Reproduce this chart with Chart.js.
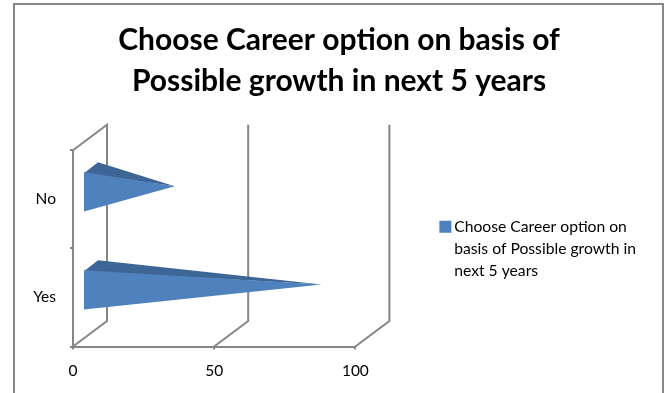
<!DOCTYPE html>
<html>
<head>
<meta charset="utf-8">
<style>
  html, body { margin: 0; padding: 0; background: #fff; overflow: hidden; }
  #wrap { position: relative; width: 664px; height: 393px; }
</style>
<script src="https://cdn.jsdelivr.net/npm/chart.js@4"></script>
</head>
<body>
<div id="wrap"><canvas id="myChart"></canvas></div>
<script>
const categories = ['No', 'Yes'];
const seriesValues = [30, 82];
const seriesName = 'Choose Career option on basis of Possible growth in next 5 years';
const legendLines = ['Choose Career option on', 'basis of Possible growth in', 'next 5 years'];
const titleLines = ['Choose Career option on basis of', 'Possible growth in next 5 years'];
const xTicks = [0, 50, 100];

const FONT = 'Lato, "Open Sans", sans-serif';
const GREY = '#868686';

// Глубина псевдо-3D: смещение задней стенки
const DEPTH_X = 34;
const DEPTH_Y = 25.5;

const frame = {
  id: 'frame',
  beforeDraw(chart) {
    const c = chart.ctx;
    c.save();
    c.strokeStyle = GREY;
    c.lineWidth = 2;
    c.beginPath();
    c.moveTo(14, 393);
    c.lineTo(14, 4);
    c.lineTo(663, 4);
    c.lineTo(663, 393);
    c.stroke();
    c.restore();
  }
};

// Легенда чуть ниже центра области
const legendShift = {
  id: 'legendShift',
  afterLayout(chart) {
    chart.legend.top += 3.5;
    chart.legend.bottom += 3.5;
  }
};

// Стенки и линии сетки в перспективе
const walls = {
  id: 'walls',
  beforeDatasetsDraw(chart) {
    const c = chart.ctx;
    const { top, bottom } = chart.chartArea;
    const x = chart.scales.x;
    c.save();
    c.strokeStyle = GREY;
    c.lineWidth = 2;
    x.ticks.forEach(function(t, i) {
      const px = x.getPixelForTick(i);
      c.beginPath();
      if (i === 0) {
        c.moveTo(px, top);
        c.lineTo(px + DEPTH_X, top - DEPTH_Y);
      } else {
        c.moveTo(px + DEPTH_X, top - DEPTH_Y);
      }
      c.lineTo(px + DEPTH_X, bottom - DEPTH_Y);
      c.lineTo(px, bottom);
      c.stroke();
    });
    c.restore();
  }
};

// Пирамиды вместо обычных столбцов, координаты берутся из элементов графика
const pyramids = {
  id: 'pyramids',
  beforeDatasetDraw(chart, args) {
    const c = chart.ctx;
    args.meta.data.forEach(function(bar) {
      const x0 = bar.base + 10;
      const yTop = bar.y - 7.5 - bar.height / 2;
      const yBottom = bar.y - 7.5 + bar.height / 2;
      const tipX = bar.x + 17;
      const tipY = bar.y - 13;

      c.fillStyle = '#3D6696';
      c.beginPath();
      c.moveTo(x0, yTop + 1);
      c.lineTo(x0 + 14, yTop - 10);
      c.lineTo(tipX, tipY);
      c.closePath();
      c.fill();

      c.fillStyle = '#4F81BD';
      c.beginPath();
      c.moveTo(x0, yTop);
      c.lineTo(tipX, tipY);
      c.lineTo(x0, yBottom);
      c.closePath();
      c.fill();
    });
    return false;
  }
};

new Chart(document.getElementById('myChart'), {
  type: 'bar',
  data: {
    labels: categories,
    datasets: [{
      label: seriesName,
      data: seriesValues,
      backgroundColor: '#4F81BD',
      barPercentage: 0.4,
      categoryPercentage: 1
    }]
  },
  plugins: [frame, legendShift, walls, pyramids],
  options: {
    indexAxis: 'y',
    responsive: true,
    maintainAspectRatio: false,
    animation: false,
    layout: { padding: { left: 32, right: 18 } },
    scales: {
      x: {
        min: xTicks[0],
        max: xTicks[2],
        afterBuildTicks(scale) {
          scale.ticks = xTicks.map(v => ({ value: v }));
        },
        afterFit(scale) { scale.height = 46.5; },
        border: { color: GREY, width: 2 },
        grid: { drawOnChartArea: false, color: GREY, tickLength: 3, lineWidth: 2 },
        ticks: { color: '#000', padding: 12, maxRotation: 0, font: { family: FONT, size: 15.5 } }
      },
      y: {
        afterFit(scale) { scale.width = 41; },
        border: { color: GREY, width: 2 },
        grid: { drawOnChartArea: false, color: GREY, tickLength: 3, lineWidth: 2 },
        ticks: { color: '#000', padding: 14, font: { family: FONT, size: 15.5 } }
      },
      // Пустая ось справа, держит отступ до легенды
      spacer: {
        axis: 'y',
        position: 'right',
        afterFit(scale) { scale.width = 76; },
        border: { display: false },
        grid: { display: false },
        ticks: { display: false }
      }
    },
    plugins: {
      title: {
        display: true,
        text: titleLines,
        color: '#000',
        font: { family: FONT, size: 30, weight: 'bold', lineHeight: 1.37 },
        padding: { top: 19.5, bottom: 48.5 }
      },
      legend: {
        display: true,
        position: 'right',
        fullSize: false,
        maxWidth: 260,
        labels: {
          color: '#000',
          usePointStyle: true,
          boxWidth: 2,
          boxHeight: 12,
          padding: 13,
          font: { family: FONT, size: 15.7, lineHeight: 1.4 },
          generateLabels() {
            return [{ text: legendLines, fillStyle: '#4F81BD', strokeStyle: '#4F81BD', lineWidth: 0, pointStyle: 'rect', datasetIndex: 0 }];
          }
        }
      },
      tooltip: { enabled: false }
    }
  }
});
</script>
</body>
</html>
